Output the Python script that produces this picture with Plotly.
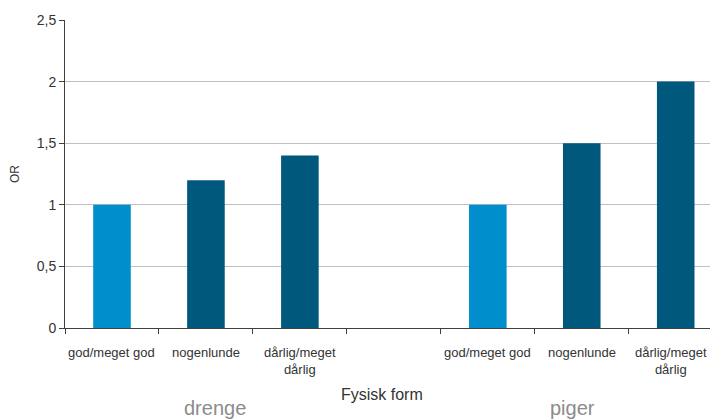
import plotly.graph_objects as go

# Data
kategorier = ["god/meget god", "nogenlunde", "dårlig/meget<br>dårlig"]
drenge_or = [1.0, 1.2, 1.4]
piger_or = [1.0, 1.5, 2.0]
grupper = ["drenge", "piger"]

lys_blaa = "#008fcc"
mork_blaa = "#00597d"
farver = [lys_blaa, mork_blaa, mork_blaa]

# positions: drenge 0..2, tomt felt 3, piger 4..6
x_drenge = [0, 1, 2]
x_piger = [4, 5, 6]

fig = go.Figure()
fig.add_trace(go.Bar(x=x_drenge + x_piger, y=drenge_or + piger_or,
                     marker=dict(color=farver + farver, line=dict(width=0)),
                     width=0.4, showlegend=False))

# kategori-labels under aksen
for xs in (x_drenge, x_piger):
    for xv, lab in zip(xs, kategorier):
        # sidste label rykkes lidt ind så den ikke klippes i kanten
        skift = -5 if xv == 6 else 0
        fig.add_annotation(x=xv, y=0, xref="x", yref="paper", text=lab,
                           showarrow=False, yanchor="top", yshift=-15,
                           xshift=skift,
                           font=dict(size=13, color="#333333"))

fig.add_annotation(x=0.486, y=0, xref="paper", yref="paper", text="Fysisk form",
                   showarrow=False, yanchor="middle", yshift=-66,
                   font=dict(size=16, color="#333333"))
fig.add_annotation(x=1.1, y=0, xref="x", yref="paper", text=grupper[0],
                   showarrow=False, yanchor="middle", yshift=-80,
                   font=dict(size=20, color="#8c8c8c"))
fig.add_annotation(x=4.9, y=0, xref="x", yref="paper", text=grupper[1],
                   showarrow=False, yanchor="middle", yshift=-80,
                   font=dict(size=20, color="#8c8c8c"))

# siden har 8px body-margin, så figuren gøres tilsvarende mindre
fig.update_layout(
    width=710, height=411,
    margin=dict(l=57, r=0, t=12, b=91),
    plot_bgcolor="white", paper_bgcolor="white",
    separators=", ",
    font=dict(family="Liberation Sans, Arial, sans-serif", color="#333333"),
    bargap=0.6,
)
fig.update_xaxes(range=[-0.5, 6.45], tickmode="array",
                 tickvals=[-0.5, 0.5, 1.5, 2.5, 3.5, 4.5, 5.5, 6.5],
                 ticktext=[""] * 8, ticks="outside", ticklen=5,
                 tickcolor="#404040", showline=True, linecolor="#404040",
                 linewidth=1, showgrid=False, zeroline=False)
fig.update_yaxes(range=[0, 2.5], dtick=0.5, tickformat=".1~f",
                 ticks="outside", ticklen=5, tickcolor="#404040",
                 showline=True, linecolor="#404040", linewidth=1,
                 showgrid=True, gridcolor="#bfbfbf", gridwidth=1,
                 zeroline=False, tickfont=dict(size=14, color="#333333"),
                 title=dict(text="OR", font=dict(size=12, color="#333333"),
                            standoff=14))

fig.write_html("out.html")
